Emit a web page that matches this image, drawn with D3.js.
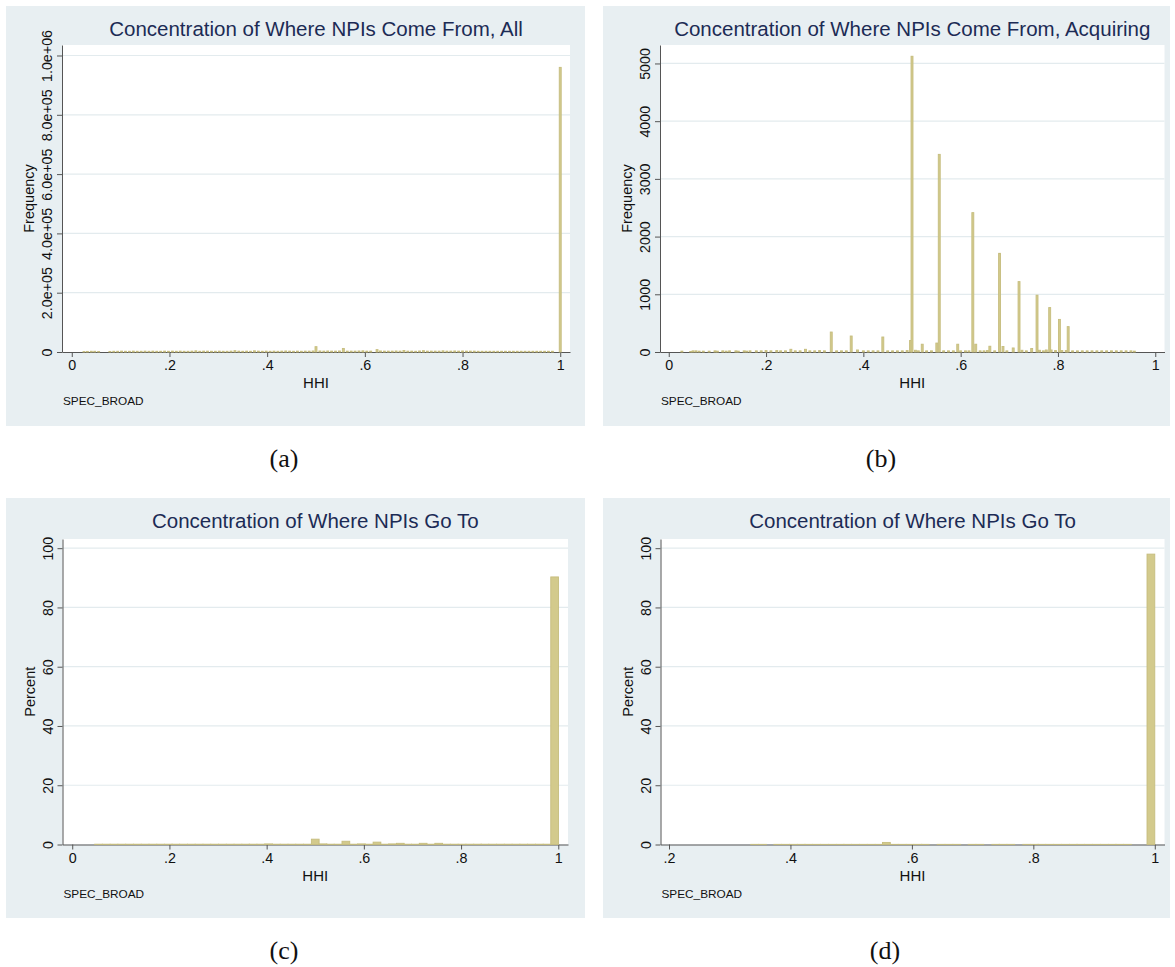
<!DOCTYPE html>
<html lang="en">
<head>
<meta charset="UTF-8">
<script src="https://cdn.jsdelivr.net/npm/d3@7"></script>
<style>
    body{margin:0;background:#fff;}
    svg text{font-family:"Liberation Sans",Arial,sans-serif;fill:#111;}
    svg text.title{fill:#1c2b55;}
    svg text.cap{font-family:"Liberation Serif","Times New Roman",serif;}
    .axis path,.axis line{stroke:#555;}
</style>
<title>HHI histograms</title>
</head>
<body>
<script>
// (a) frequency by HHI value, all
var hhiA = [
    0.025,0.032,0.040,0.047,0.055,0.078,0.086,0.094,0.102,0.110,
    0.118,0.126,0.134,0.142,0.150,0.158,0.166,0.174,0.182,0.190,
    0.198,0.206,0.214,0.222,0.230,0.238,0.246,0.254,0.262,0.270,
    0.278,0.286,0.294,0.302,0.310,0.318,0.326,0.334,0.342,0.350,
    0.358,0.366,0.374,0.382,0.390,0.398,0.406,0.414,0.422,0.430,
    0.438,0.446,0.454,0.462,0.470,0.478,0.486,0.494,0.500,0.508,
    0.516,0.524,0.532,0.540,0.548,0.556,0.564,0.572,0.580,0.588,
    0.596,0.604,0.612,0.625,0.632,0.640,0.648,0.656,0.664,0.672,
    0.680,0.688,0.696,0.704,0.712,0.720,0.728,0.736,0.744,0.752,
    0.760,0.768,0.776,0.784,0.792,0.800,0.808,0.816,0.824,0.832,
    0.840,0.848,0.856,0.864,0.872,0.880,0.888,0.896,0.904,0.912,
    0.920,0.928,0.936,0.944,0.952,0.960,0.968,0.976,0.984,1.000];
var freqA = [
    1500,2000,2500,2500,2000,2000,2500,2500,3000,2500,
    2500,3000,2500,2500,3000,2500,3000,2500,2500,3000,
    2500,3000,2500,3000,2500,2500,3000,4000,2500,3000,
    3000,2500,2500,3000,2500,2500,3000,4500,3000,2500,
    3000,2500,4000,3000,2500,3000,2500,3000,2500,3000,
    3500,3000,2500,3000,2500,3000,3000,3500,18000,3500,
    3000,3500,3000,3000,3500,12000,3000,3000,3000,3500,
    4000,3000,3000,8000,3500,3000,3000,3000,3500,3000,
    5000,3000,3000,2500,3500,4500,3000,3000,3000,3000,
    4000,3000,3000,3500,3000,3500,3000,3000,3000,2500,
    2500,2500,2500,2500,2500,2500,2500,2500,2500,2500,
    2500,2500,2500,2500,2500,2500,2500,2500,2500,960000];

// (b) frequency by HHI value, acquiring
var hhiB = [
    0.027,0.045,0.050,0.056,0.0625,0.071,0.083,0.095,0.100,0.111,
    0.118,0.125,0.138,0.143,0.155,0.160,0.167,0.180,0.190,0.200,
    0.210,0.222,0.230,0.240,0.251,0.260,0.270,0.281,0.290,0.300,
    0.310,0.320,0.334,0.345,0.355,0.365,0.375,0.388,0.400,0.410,
    0.420,0.430,0.440,0.450,0.460,0.470,0.480,0.490,0.497,0.500,
    0.507,0.513,0.521,0.530,0.540,0.551,0.556,0.565,0.575,0.585,
    0.594,0.600,0.610,0.617,0.625,0.631,0.640,0.648,0.655,0.660,
    0.670,0.680,0.687,0.695,0.708,0.720,0.726,0.735,0.746,0.757,
    0.762,0.770,0.776,0.783,0.786,0.795,0.803,0.808,0.817,0.821,
    0.830,0.840,0.850,0.860,0.870,0.880,0.890,0.900,0.910,0.920,
    0.930,0.940,0.950,0.957];
var freqB = [
    15,10,20,20,15,15,15,20,15,20,
    15,20,20,15,20,15,20,20,20,25,
    20,25,20,20,47,20,20,47,20,20,
    25,20,346,20,20,20,277,35,20,20,
    20,20,260,20,20,20,20,25,200,5125,
    30,20,135,20,20,155,3425,20,20,20,
    135,20,20,20,2415,135,20,20,25,100,
    20,1710,95,20,70,1220,30,20,60,985,
    30,20,35,770,35,25,565,25,25,440,
    20,20,20,20,20,20,20,20,20,20,
    20,20,20,15];

// (c) percent by HHI bin
var binC = [
    0.054,0.070,0.086,0.102,0.118,0.134,0.150,0.166,0.182,0.198,
    0.213,0.229,0.245,0.261,0.277,0.293,0.309,0.325,0.341,0.357,
    0.372,0.388,0.404,0.420,0.436,0.452,0.468,0.484,0.500,0.516,
    0.531,0.547,0.563,0.579,0.595,0.611,0.627,0.643,0.659,0.675,
    0.690,0.706,0.722,0.738,0.754,0.770,0.786,0.802,0.818,0.834,
    0.849,0.865,0.881,0.897,0.913,0.929,0.945,0.961,0.977,0.9925];
var pctC = [
    0.1,0.1,0.1,0.1,0.1,0.1,0.1,0.1,0.1,0.1,
    0.1,0.1,0.1,0.1,0.1,0.1,0.1,0.1,0.1,0.1,
    0.1,0.1,0.2,0.1,0.1,0.1,0.1,0.1,1.8,0.2,
    0.1,0.1,1.1,0.1,0.2,0.1,0.8,0.1,0.2,0.4,
    0.1,0.1,0.4,0.1,0.4,0.1,0.1,0.1,0.1,0.1,
    0.1,0.1,0.1,0.1,0.1,0.1,0.1,0.1,0.1,90.3];

// (d) percent by HHI bin
var binD = [
    0.341,0.354,0.379,0.392,0.405,0.418,0.430,0.443,0.456,0.469,
    0.482,0.494,0.507,0.520,0.533,0.546,0.558,0.571,0.584,0.597,
    0.610,0.622,0.648,0.661,0.674,0.699,0.712,0.738,0.750,0.763,
    0.789,0.802,0.814,0.827,0.840,0.853,0.866,0.878,0.891,0.904,
    0.917,0.930,0.942,0.955,0.9936];
var pctD = [
    0.05,0.05,0.05,0.05,0.05,0.05,0.05,0.05,0.05,0.05,
    0.05,0.05,0.05,0.05,0.05,0.05,0.7,0.05,0.05,0.05,
    0.05,0.05,0.05,0.05,0.05,0.05,0.05,0.05,0.05,0.05,
    0.05,0.05,0.05,0.05,0.05,0.05,0.05,0.05,0.05,0.05,
    0.05,0.05,0.05,0.05,98.0];

// tick labels
var xTicks = [0,0.2,0.4,0.6,0.8,1];
var xTickLabels = ["0",".2",".4",".6",".8","1"];
var xTicksD = [0.2,0.4,0.6,0.8,1];
var xTickLabelsD = [".2",".4",".6",".8","1"];
var yTicksA = [0,200000,400000,600000,800000,1000000];
var yTickLabelsA = ["0","2.0e+05","4.0e+05","6.0e+05","8.0e+05","1.0e+06"];
var yTicksB = [0,1000,2000,3000,4000,5000];
var yTicksPct = [0,20,40,60,80,100];

var panels = [
    {title:"Concentration of Where NPIs Come From, All", ytitle:"Frequency", cap:"(a)",
     xs:hhiA, ys:freqA, w:0.004, xt:xTicks, xl:xTickLabels, yt:yTicksA, yl:yTickLabelsA,
     box:[6,6,585,426], plot:[62,45,570,352], xdom:[-0.02,1.02], ymax:1035400, capx:284, capy:467},
    {title:"Concentration of Where NPIs Come From, Acquiring", ytitle:"Frequency", cap:"(b)",
     xs:hhiB, ys:freqB, w:0.004, xt:xTicks, xl:xTickLabels, yt:yTicksB, yl:yTicksB.map(String),
     box:[603,6,1170,426], plot:[660,45,1164.5,352], xdom:[-0.018,1.019], ymax:5320, capx:881, capy:467},
    {title:"Concentration of Where NPIs Go To", ytitle:"Percent", cap:"(c)",
     xs:binC, ys:pctC, w:0.0159, xt:xTicks, xl:xTickLabels, yt:yTicksPct, yl:yTicksPct.map(String),
     box:[6,498,585,918], plot:[62.5,539,568,844.5], xdom:[-0.02,1.02], ymax:103.1, capx:284, capy:959},
    {title:"Concentration of Where NPIs Go To", ytitle:"Percent", cap:"(d)",
     xs:binD, ys:pctD, w:0.0128, xt:xTicksD, xl:xTickLabelsD, yt:yTicksPct, yl:yTicksPct.map(String),
     box:[603,498,1170,918], plot:[660.5,539,1164.5,844.5], xdom:[0.186,1.016], ymax:103.1, capx:885, capy:959}
];

var svg = d3.select("body").append("svg")
    .attr("width",1175)
    .attr("height",967);

panels.forEach(function(p){
    var L = p.plot[0], T = p.plot[1], R = p.plot[2], B = p.plot[3];
    var x = d3.scaleLinear().domain(p.xdom).range([L,R]);
    var y = d3.scaleLinear().domain([0,p.ymax]).range([B,T]);

    svg.append("rect")
        .attr("x",p.box[0]).attr("y",p.box[1])
        .attr("width",p.box[2]-p.box[0]).attr("height",p.box[3]-p.box[1])
        .attr("fill","#e8eff2");
    svg.append("rect")
        .attr("x",L).attr("y",T).attr("width",R-L).attr("height",B-T)
        .attr("fill","#fff");

    // grid
    svg.append("g").selectAll("line")
        .data(p.yt.slice(1))
        .enter().append("line")
        .attr("x1",L).attr("x2",R)
        .attr("y1",function(d){return y(d);})
        .attr("y2",function(d){return y(d);})
        .attr("stroke","#e3ebee")
        .attr("stroke-width",1.2);

    // axes
    var ax = svg.append("g").attr("class","axis")
        .attr("transform","translate(0,"+B+")")
        .call(d3.axisBottom(x).tickValues(p.xt).tickSize(5).tickSizeOuter(0)
            .tickFormat(function(d,i){return p.xl[i];}));
    ax.selectAll("text").attr("y",8).attr("font-size",14.3).attr("fill","#111");

    var ay = svg.append("g").attr("class","axis")
        .attr("transform","translate("+L+",0)")
        .call(d3.axisLeft(y).tickValues(p.yt).tickSize(5).tickSizeOuter(0)
            .tickFormat(function(d,i){return p.yl[i];}));
    ay.selectAll("text")
        .attr("x",0).attr("y",-10).attr("dy",0)
        .attr("transform","rotate(-90)")
        .attr("text-anchor","middle")
        .attr("font-size",14.3).attr("fill","#111");
    ax.select(".domain").attr("stroke","#555");
    ay.select(".domain").attr("stroke","#555");

    // bars
    svg.append("g").selectAll("rect")
        .data(d3.zip(p.xs,p.ys))
        .enter().append("rect")
        .attr("x",function(d){return x(d[0]-p.w/2);})
        .attr("width",function(d){return x(d[0]+p.w/2)-x(d[0]-p.w/2);})
        .attr("y",function(d){return y(d[1]);})
        .attr("height",function(d){return y(0)-y(d[1]);})
        .attr("fill","#d3ca8c")
        .attr("stroke","#c6bd7e")
        .attr("stroke-width",0.9);

    // texts
    svg.append("text").attr("class","title")
        .attr("x",(L+R)/2).attr("y",p.box[1]+30)
        .attr("text-anchor","middle").attr("font-size",20.5)
        .text(p.title);
    svg.append("text")
        .attr("x",(L+R)/2).attr("y",B+36)
        .attr("text-anchor","middle").attr("font-size",15)
        .text("HHI");
    svg.append("text")
        .attr("transform","translate("+(L-28)+","+((T+B)/2)+") rotate(-90)")
        .attr("text-anchor","middle").attr("font-size",14.5)
        .text(p.ytitle);
    svg.append("text")
        .attr("x",L+1).attr("y",B+53)
        .attr("font-size",11.8)
        .text("SPEC_BROAD");
    svg.append("text").attr("class","cap")
        .attr("x",p.capx).attr("y",p.capy)
        .attr("text-anchor","middle").attr("font-size",26)
        .text(p.cap);
});
</script>
</body>
</html>
